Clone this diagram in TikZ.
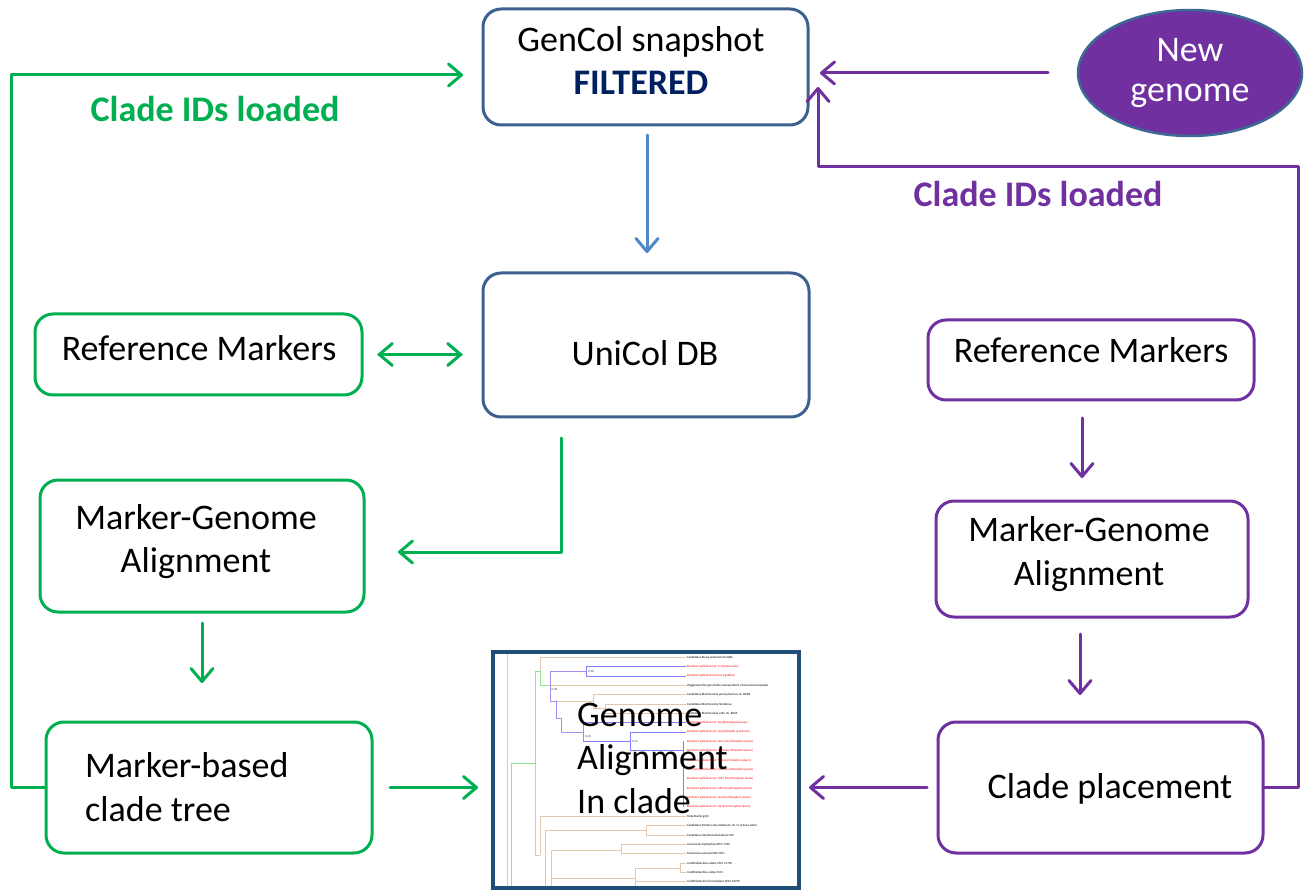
\documentclass[tikz,border=0pt]{standalone}
\usepackage{fontspec}
\setmainfont{Carlito}
\usetikzlibrary{arrows.meta,shapes.geometric,calc}
\definecolor{cgreen}{HTML}{00B050}
\definecolor{cpurple}{HTML}{7030A0}
\definecolor{cboxblue}{HTML}{3C6190}
\definecolor{carrowblue}{HTML}{4F87C7}
\definecolor{cfiltered}{HTML}{002060}
\definecolor{ctreeframe}{HTML}{1F4E79}
\definecolor{cellborder}{HTML}{3D6A94}
\definecolor{ttan}{HTML}{E6C6AA}
\definecolor{tgreen}{HTML}{8FE28F}
\definecolor{tpurple}{HTML}{A98AF0}
\definecolor{tblue}{HTML}{7F7FFF}
\begin{document}
\begin{tikzpicture}[x=1pt,y=-1pt,
  box/.style={draw, rounded corners=18pt, line width=3pt, inner sep=0pt, outer sep=0pt},
  gbox/.style={box, draw=cgreen},
  pbox/.style={box, draw=cpurple},
  bbox/.style={box, draw=cboxblue},
  txt/.style={inner sep=0pt, font=\fontsize{36}{43.5}\selectfont, align=center},
  conn/.style={line width=3pt, line cap=round, line join=round, -{Straight Barb[length=13pt,width=22pt,line cap=round,line join=round]}},
  garrow/.style={conn, draw=cgreen},
  parrow/.style={conn, draw=cpurple},
  barrow/.style={conn, draw=carrowblue},
  gdarrow/.style={line width=3pt, draw=cgreen, {Straight Barb[length=13pt,width=22pt,line cap=round]}-{Straight Barb[length=13pt,width=22pt,line cap=round]}},
  tl/.style={line width=0.9pt},
  leaf/.style={inner sep=0pt, anchor=west, font=\fontsize{3.1}{3.5}\selectfont},
  bval/.style={inner sep=0pt, anchor=west, text=black!70, font=\fontsize{3.1}{3.5}\selectfont}
]
\useasboundingbox (0,0) rectangle (1304,890);
\fill[white] (0,0) rectangle (1304,890);

% ---------- tree picture ----------
\begin{scope}
\clip (495,654) rectangle (797,886);
% tan branches
\draw[tl, ttan] (507,652) -- (507,888);
\draw[tl, ttan] (540,671.7) -- (540,657.3) -- (686,657.3);
\draw[tl, ttan] (550,685.35) -- (686,685.35);
\draw[tl, ttan] (556.7,701.7) -- (593.3,701.7);
\draw[tl, ttan] (686,694.7) -- (593.3,694.7) -- (593.3,708.3) -- (605,708.3);
\draw[tl, ttan] (686,704.05) -- (605,704.05) -- (605,713.4) -- (686,713.4);
\draw[tl, ttan] (535,763.3) -- (535,855) -- (540,855);
\draw[tl, ttan] (540,855) -- (540,816.25) -- (686,816.25);
\draw[tl, ttan] (545,888) -- (545,830) -- (646.7,830);
\draw[tl, ttan] (686,825.6) -- (646.7,825.6) -- (646.7,834.95) -- (686,834.95);
\draw[tl, ttan] (551.7,888) -- (551.7,850) -- (621.7,850);
\draw[tl, ttan] (686,844.3) -- (621.7,844.3) -- (621.7,853.65) -- (686,853.65);
\draw[tl, ttan] (551.7,878.3) -- (635,878.3);
\draw[tl, ttan] (635,888) -- (635,868.3) -- (680,868.3);
\draw[tl, ttan] (686,863) -- (680,863) -- (680,872.35) -- (686,872.35);
\draw[tl, ttan] (635,881.7) -- (686,881.7);
% green branches
\draw[tl, tgreen] (511,888) -- (511,763.3) -- (535,763.3) -- (535,671.7) -- (540,671.7) -- (540,685.35) -- (550,685.35);
% purple branches
\draw[tl, tpurple] (586,671.7) -- (550,671.7) -- (550,701.7) -- (556.7,701.7) -- (556.7,718.3) -- (561.7,718.3) -- (561.7,732.5) -- (583.3,732.5);
\draw[tl, tpurple] (583.3,722.75) -- (583.3,741.45);
% blue branches
\draw[tl, tblue] (686,666.65) -- (586,666.65) -- (586,676) -- (686,676);
\draw[tl, tblue] (583.3,722.75) -- (686,722.75);
\draw[tl, tblue] (583.3,741.45) -- (630,741.45);
\draw[tl, tblue] (686,732.1) -- (630,732.1) -- (630,750.8) -- (683.3,750.8);
\draw[tl, tblue] (683.3,741.45) -- (683.3,806.9);
% branch values
\node[bval] (bv1) at (588,671.3) {0.28};
\node[bval] (bv2) at (551.5,689) {0.88};
\node[bval] (bv3) at (585,736) {0.28};
\node[bval] (bv4) at (632,741.5) {0.23};
% leaf labels
\foreach \r/\c/\t in {
 0/black/{Candidatus Riesia pediculicola USDA},
 1/red/{Buchnera aphidicola str. Cc (Cinara cedri)},
 2/red/{Buchnera aphidicola (Cinara tujafilina)},
 3/black/{Wigglesworthia glossinidia endosymbiont of Glossina brevipalpis},
 4/black/{Candidatus Blochmannia pennsylvanicus str. BPEN},
 5/black/{Candidatus Blochmannia floridanus},
 6/black/{Candidatus Blochmannia vafer str. BVAF},
 7/red/{Buchnera aphidicola str. Bp (Baizongia pistaciae)},
 8/red/{Buchnera aphidicola str. Sg (Schizaphis graminum)},
 9/red/{Buchnera aphidicola str. LL01 (Acyrthosiphon pisum)},
 10/red/{Buchnera aphidicola str. JF98 (Acyrthosiphon pisum)},
 11/red/{Buchnera aphidicola str. 5A (Acyrthosiphon pisum)},
 12/red/{Buchnera aphidicola str. Tuc7 (Acyrthosiphon pisum)},
 13/red/{Buchnera aphidicola str. LSR1 (Acyrthosiphon pisum)},
 14/red/{Buchnera aphidicola str. APS (Acyrthosiphon pisum)},
 15/red/{Buchnera aphidicola str. Ua (Acyrthosiphon pisum)},
 16/red/{Buchnera aphidicola str. Ak (Acyrthosiphon pisum)},
 17/black/{Rickettsiella grylli},
 18/black/{Candidatus Portiera aleyrodidarum str. Cc (Cinara cedri)},
 19/black/{Candidatus Hamiltonella defensa 5AT},
 20/black/{Aeromonas hydrophila ATCC 7966},
 21/black/{Tolumonas auensis DSM 9187},
 22/black/{Acidithiobacillus caldus ATCC 51756},
 23/black/{Acidithiobacillus caldus SM-1},
 24/black/{Acidithiobacillus ferrooxidans ATCC 23270}}
 { \node[leaf, text=\c] (leaf\r) at (687,{657.3+9.35*\r}) {\t}; }
\end{scope}
\node[draw=ctreeframe, line width=4pt, minimum width=306pt, minimum height=236pt, inner sep=0pt, outer sep=0pt] (tree) at (646,770) {};
\node[txt, align=left, anchor=west] (treeT) at (577,758) {Genome\\Alignment\\In clade};

% ---------- boxes ----------
\node[bbox, minimum width=325pt, minimum height=116pt] (gencol) at (645.5,67) {};
\node[txt] (gencolT) at (641,60.3) {GenCol snapshot\\{\bfseries\color{cfiltered}FILTERED}};
\node[bbox, minimum width=326pt, minimum height=144pt] (unicol) at (646,345) {};
\node[txt] (unicolT) at (645,352.7) {UniCol DB};

\node[gbox, minimum width=327pt, minimum height=81pt] (lrm) at (198.5,354.5) {};
\node[txt] (lrmT) at (199,347.7) {Reference Markers};
\node[gbox, minimum width=324pt, minimum height=132pt] (lmg) at (202,546) {};
\node[txt] (lmgT) at (196,541.8) {Marker-Genome\\Alignment};
\node[gbox, minimum width=326pt, minimum height=131pt] (lmbt) at (209,787.5) {};
\node[txt, align=left, anchor=west] (lmbtT) at (85,787) {Marker-based\\clade tree};

\node[pbox, minimum width=326pt, minimum height=80pt] (rrm) at (1091,360) {};
\node[txt] (rrmT) at (1091,350.4) {Reference Markers};
\node[pbox, minimum width=312pt, minimum height=116pt] (rmg) at (1092,559) {};
\node[txt] (rmgT) at (1089,554) {Marker-Genome\\Alignment};
\node[pbox, minimum width=325pt, minimum height=131pt] (rcp) at (1100.5,787.5) {};
\node[txt] (rcpT) at (1110,788.5) {Clade placement};

\node[ellipse, draw=cellborder, line width=2.5pt, fill=cpurple, minimum width=224pt, minimum height=126pt, inner sep=0pt, outer sep=0pt, text=white, align=center, font=\fontsize{36}{40}\selectfont] (ng) at (1190,73) {New\\genome};

% ---------- labels ----------
\node[inner sep=0pt, anchor=base, text=cgreen, font=\fontsize{36}{42}\selectfont\bfseries] (gclade) at (215,121.7) {Clade IDs loaded};
\node[inner sep=0pt, anchor=base, text=cpurple, font=\fontsize{36}{42}\selectfont\bfseries] (pclade) at (1038,206.7) {Clade IDs loaded};

% ---------- connectors ----------
\draw[barrow, shorten <=10pt, shorten >=20pt] ($(gencol.south)+(1.5,0)$) -- ($(unicol.north)+(1,0)$);
\draw[gdarrow, shorten <=15pt, shorten >=20pt] (lrm.east) -- (lrm.east -| unicol.west);
\draw[garrow, shorten <=21pt, shorten >=34pt] ($(unicol.south)+(-85,0)$) |- ($(lmg.east)+(0,6)$);
\draw[garrow, shorten <=11pt, shorten >=39pt] (lmg.south) -- (lmg.south |- lmbt.north);
\draw[garrow, shorten <=18pt, shorten >=15pt] (lmbt.east) -- (lmbt.east -| tree.west);
\draw[garrow, shorten >=20pt] (lmbt.west) -- ++(-35,0) |- ($(gencol.west)+(0,8)$);
\draw[parrow, shorten <=30pt, shorten >=12pt] (ng.west) -- (ng.west -| gencol.east);
\draw[parrow, shorten >=20pt] (rcp.east) -- ++(35,0) |- ($(gencol.east)+(10,100)$) -- ($(gencol.east)+(10,0)$);
\draw[parrow, shorten <=18pt, shorten >=23pt] ($(rrm.south)+(-9,0)$) -- ($(rmg.north)+(-10,0)$);
\draw[parrow, shorten <=17pt, shorten >=27pt] ($(rmg.south)+(-12,0)$) -- ($(rcp.north)+(-20.5,0)$);
\draw[parrow, shorten <=11pt, shorten >=10pt] (rcp.west) -- (rcp.west -| tree.east);
\end{tikzpicture}
\end{document}
